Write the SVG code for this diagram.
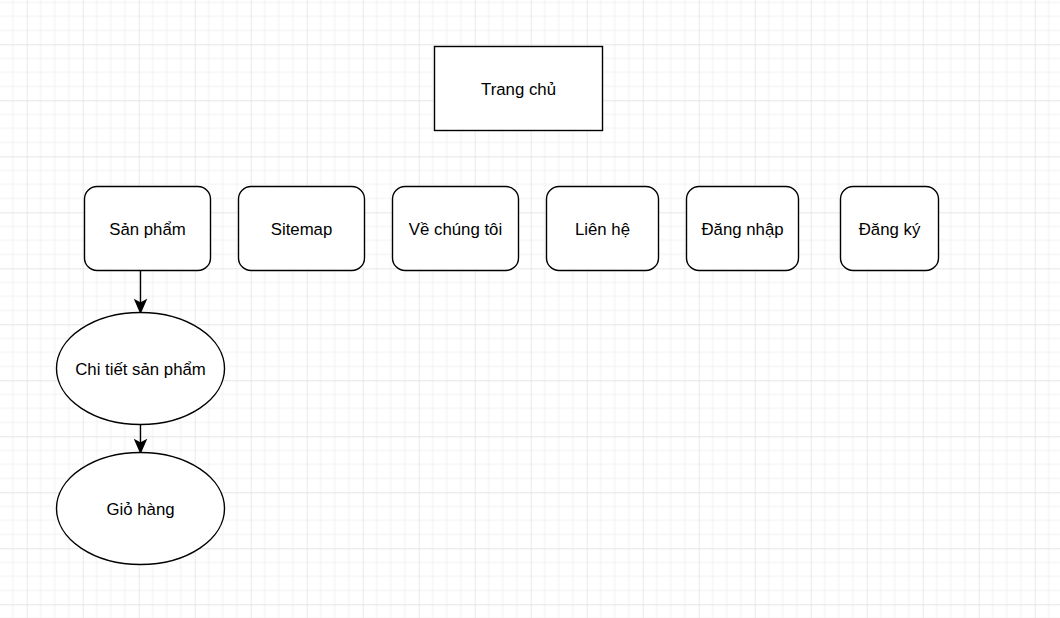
<svg xmlns="http://www.w3.org/2000/svg" width="1060" height="618" viewBox="0 0 1060 618">
  <style>
    .node { fill: #ffffff; stroke: #000000; stroke-width: 1.4; }
    .lbl { font-family: "Liberation Sans", Arial, sans-serif; font-size: 16.8px; fill: #000000; text-anchor: middle; }
    .edge { stroke: #000000; stroke-width: 1.4; fill: none; }
    .head { fill: #000000; stroke: #000000; stroke-width: 1.4; stroke-linejoin: miter; }
  </style>
  <defs>
    <pattern id="grid" patternUnits="userSpaceOnUse" x="26.7" y="44.3" width="56" height="56">
      <path d="M14 0V56M28 0V56M42 0V56M0 14H56M0 28H56M0 42H56" stroke="#f1f1f1" stroke-width="1" fill="none"/>
      <path d="M0 0V56M0 0H56" stroke="#dedede" stroke-width="1.3" fill="none"/>
    </pattern>
  </defs>
  <rect x="0" y="0" width="1060" height="618" fill="#ffffff"/>
  <rect x="0" y="0" width="1060" height="618" fill="url(#grid)"/>

  <g id="connectors">
    <g id="edge-sanpham-chitiet">
      <line class="edge" x1="140.5" y1="270.5" x2="140.5" y2="304"/>
      <path class="head" d="M140.5 312.5 L135.2 300.3 L140.5 303.2 L145.8 300.3 Z"/>
    </g>
    <g id="edge-chitiet-giohang">
      <line class="edge" x1="140.5" y1="424.5" x2="140.5" y2="444"/>
      <path class="head" d="M140.5 452.5 L135.2 440.3 L140.5 443.2 L145.8 440.3 Z"/>
    </g>
  </g>

  <g id="trang-chu">
    <rect class="node" x="434.5" y="46.5" width="168" height="84"/>
    <text class="lbl" x="518.5" y="94.5">Trang chủ</text>
  </g>
  <g id="san-pham">
    <rect class="node" x="84.5" y="186.5" width="126" height="84" rx="12.6" ry="12.6"/>
    <text class="lbl" x="147.5" y="234.5">Sản phẩm</text>
  </g>
  <g id="sitemap">
    <rect class="node" x="238.5" y="186.5" width="126" height="84" rx="12.6" ry="12.6"/>
    <text class="lbl" x="301.5" y="234.5">Sitemap</text>
  </g>
  <g id="ve-chung-toi">
    <rect class="node" x="392.5" y="186.5" width="126" height="84" rx="12.6" ry="12.6"/>
    <text class="lbl" x="455.5" y="234.5">Về chúng tôi</text>
  </g>
  <g id="lien-he">
    <rect class="node" x="546.5" y="186.5" width="112" height="84" rx="12.6" ry="12.6"/>
    <text class="lbl" x="602.5" y="234.5">Liên hệ</text>
  </g>
  <g id="dang-nhap">
    <rect class="node" x="686.5" y="186.5" width="112" height="84" rx="12.6" ry="12.6"/>
    <text class="lbl" x="742.5" y="234.5">Đăng nhập</text>
  </g>
  <g id="dang-ky">
    <rect class="node" x="840.5" y="186.5" width="98" height="84" rx="12.6" ry="12.6"/>
    <text class="lbl" x="889.5" y="234.5">Đăng ký</text>
  </g>
  <g id="chi-tiet-san-pham">
    <ellipse class="node" cx="140.5" cy="368.5" rx="84" ry="56"/>
    <text class="lbl" x="140.5" y="374.5">Chi tiết sản phẩm</text>
  </g>
  <g id="gio-hang">
    <ellipse class="node" cx="140.5" cy="508.5" rx="84" ry="56"/>
    <text class="lbl" x="140.5" y="514.5">Giỏ hàng</text>
  </g>
</svg>
